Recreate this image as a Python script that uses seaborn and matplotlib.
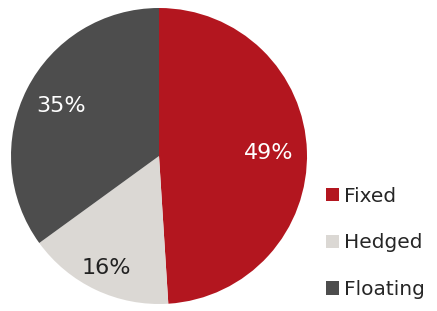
import matplotlib
matplotlib.use("Agg")
import matplotlib.pyplot as plt
import seaborn as sns
from matplotlib.patches import Patch

# Settings
sns.set_style("white")
plt.rcParams["font.family"] = ["DejaVu Sans"]

# Data
labels = ["Fixed", "Hedged", "Floating"]
shares = [49, 16, 35]
colors = ["#B3161F", "#DBD8D4", "#4D4D4D"]
text_colors = ["white", "#222222", "white"]

fig = plt.figure(figsize=(4.37, 3.11), dpi=100)
ax = fig.add_axes([11 / 437, 7 / 311, 296 / 437, 296 / 311])

wedges, texts, autotexts = ax.pie(
    shares, colors=colors, startangle=90, counterclock=False,
    autopct=lambda p: f"{p:.0f}%", pctdistance=0.74,
    textprops={"fontsize": 16}, wedgeprops={"linewidth": 0},
)
for t, c in zip(autotexts, text_colors):
    t.set_color(c)
# push the small slice label a bit further out
x, y = autotexts[1].get_position()
autotexts[1].set_position((x * 1.13, y * 1.13))
ax.set_xlim(-1, 1)
ax.set_ylim(-1, 1)
ax.set_aspect("equal")

# Legend
handles = [Patch(facecolor=c, edgecolor="none", label=l) for c, l in zip(colors, labels)]
fig.legend(handles=handles, loc="center left", bbox_to_anchor=(308 / 437, 1 - 243 / 311),
           frameon=False, fontsize=14.5, handlelength=0.65, handleheight=0.65,
           handletextpad=0.25, labelspacing=1.38)

plt.savefig("out.png", dpi=100)
